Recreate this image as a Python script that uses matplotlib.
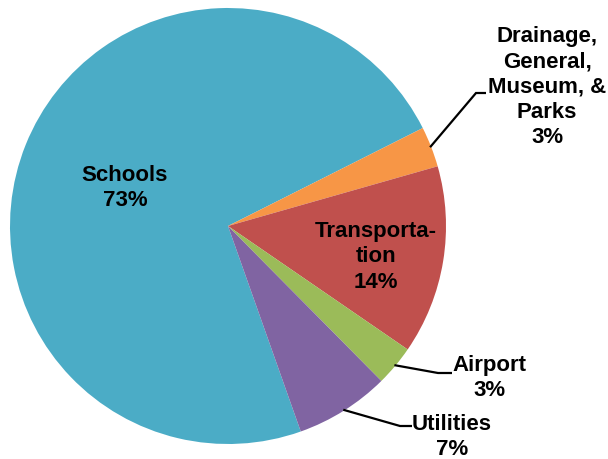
#!/usr/bin/env python3

import matplotlib
matplotlib.use('Agg')
import matplotlib.pyplot as plt
import numpy as np

categories = ["Schools", "Drainage,\nGeneral,\nMuseum, &\nParks",
              "Transporta-\ntion", "Airport", "Utilities"]
shares = [73, 3, 14, 3, 7]

colors = ["#4BACC6", "#F79646", "#C0504D", "#9BBB59", "#8064A2"]

W, H = 608, 459
CX, CY, R = 228, H - 226, 218

# label placement in pixel space (x, y from top); None means no leader line
label_pos = [(125, 188), (547, 87), (376, 257), (489, 378), (452, 437)]
elbows = [None, (476, 93, 486), None, (438, 373, 452), (400, 426, 412)]

plt.rcParams['font.family'] = ['Liberation Sans', 'DejaVu Sans']

fig = plt.figure(figsize=(W / 100, H / 100), dpi=100)
ax = fig.add_axes([0, 0, 1, 1])

wedges, _ = ax.pie(shares, colors=colors, startangle=-70.5, counterclock=False,
                   radius=R, center=(CX, CY),
                   wedgeprops=dict(linewidth=0, antialiased=True))

ax.set_xlim(0, W)
ax.set_ylim(0, H)
ax.set_aspect('equal')
ax.axis('off')

for w, name, val, (tx, ty), elb in zip(wedges, categories, shares, label_pos, elbows):
    ax.text(tx, H - ty, f"{name}\n{val}%", ha='center', va='center',
            fontsize=16, fontweight='bold', color='black', linespacing=1.28)
    if elb is None:
        continue
    mid = np.deg2rad((w.theta1 + w.theta2) / 2)
    sx = CX + R * 0.995 * np.cos(mid)
    sy = CY + R * 0.995 * np.sin(mid)
    ex, ey, hx = elb
    ax.plot([sx, ex, hx], [sy, H - ey, H - ey], color='black', lw=1.6,
            solid_capstyle='butt', solid_joinstyle='miter')

fig.savefig("out.png", dpi=100)
plt.close(fig)
